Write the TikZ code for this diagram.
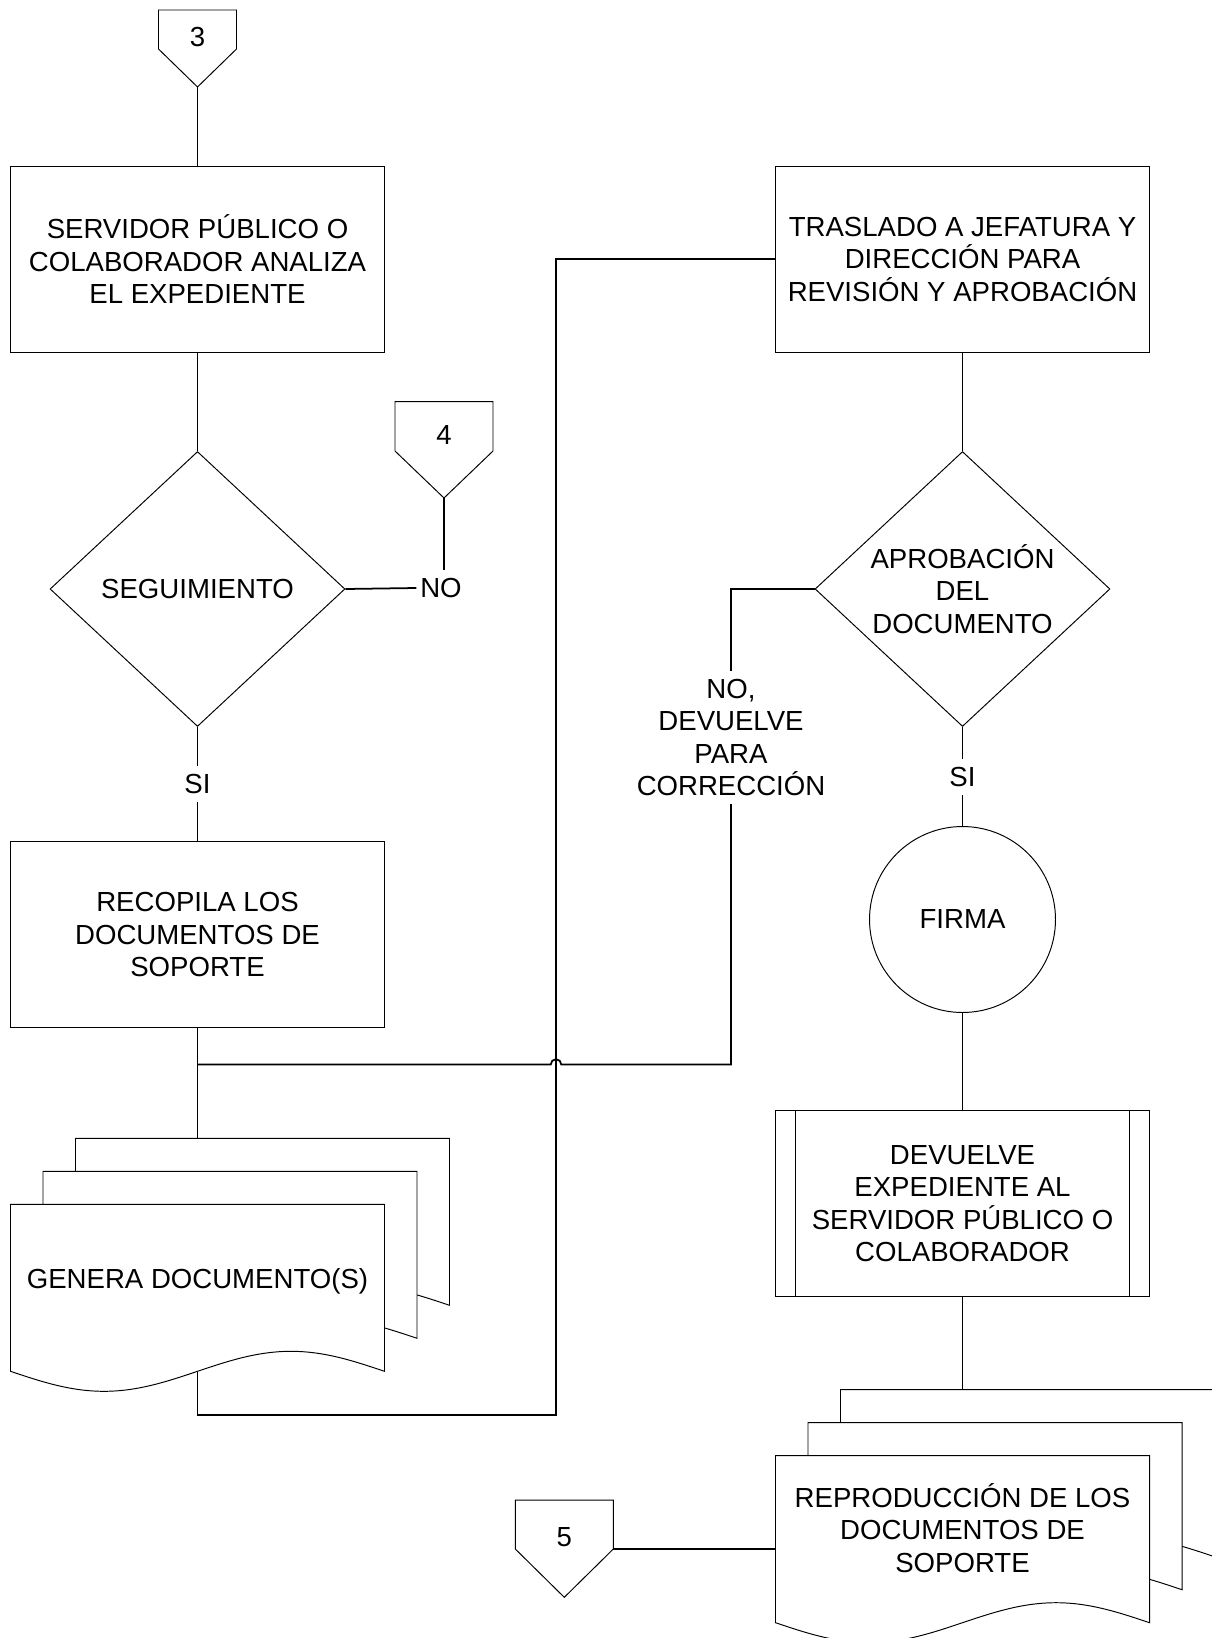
\documentclass[tikz,border=0pt]{standalone}
\usepackage{fontspec}
\setmainfont{Liberation Sans}
\usetikzlibrary{shapes.geometric}

\tikzset{
  outline/.style={draw, line width=0.55pt},
  flow/.style={line width=1pt},
  proc/.style={outline, rectangle, minimum width=7.48cm, minimum height=3.72cm, inner sep=0pt, align=center},
  decision/.style={outline, diamond, minimum width=5.9cm, minimum height=5.5cm, inner sep=0pt, align=center},
  firma/.style={outline, circle, minimum size=3.72cm, inner sep=0pt},
  lbl/.style={inner xsep=2pt, inner ysep=4.5pt, align=center},
  pics/sheet/.style={code={
    \filldraw[fill=white, line width=0.55pt] (0,167) -- (0,0) -- (374,0) -- (374,167)
      sin (280.5,147) cos (187,167) sin (93.5,187) cos (0,167) -- cycle;
  }}
}

\begin{document}
\begin{tikzpicture}[x=0.02cm, y=-0.02cm, font=\fontsize{15.7}{18.4}\selectfont]
\useasboundingbox (0,0) rectangle (1212,1638);

\draw[outline] (158.5,10) -- (236.5,10) -- (236.5,49) -- (197.5,87) -- (158.5,49) -- cycle;
\node (n3) at (197.5,37.5) {3};
\coordinate (c3) at (197.5,87);
\node[proc] (b1) at (197.5,259.2) {SERVIDOR PÚBLICO O\\COLABORADOR ANALIZA\\EL EXPEDIENTE};
\node[decision] (d1) at (197.5,589) {SEGUIMIENTO};
\draw[outline] (395,401.7) -- (493,401.7) -- (493,451) -- (444,498) -- (395,451) -- cycle;
\node (n4) at (444,435) {4};
\coordinate (c4) at (444,498);
\node[lbl] (no1) at (441,588) {NO};
\node[lbl] (si1) at (197.5,784) {SI};
\node[proc] (b2) at (197.5,934.5) {RECOPILA LOS\\DOCUMENTOS DE\\SOPORTE};
\foreach \k in {2,1,0}
  \pic at ({10.5+32.5*\k},{1204.3-33*\k}) {sheet};
\node (gen) at (197.5,1281) {GENERA DOCUMENTO(S)};
\coordinate (gentop) at (197.5,1138.3);
\coordinate (genbot) at (197.5,1371);
\coordinate (j1) at (197.5,1064.5);
\coordinate (jmp) at (556,1064.5);
\coordinate (loopc) at (556,1415);

\node[proc] (b3) at (962.5,259.2) {TRASLADO A JEFATURA Y\\DIRECCIÓN PARA\\REVISIÓN Y APROBACIÓN};
\node[decision] (d2) at (962.5,589) {APROBACIÓN\\DEL\\DOCUMENTO};
\node[lbl] (no2) at (731,737.5) {NO,\\DEVUELVE\\PARA\\CORRECCIÓN};
\node[lbl] (si2) at (962.5,777) {SI};
\node[firma] (fir) at (962.5,919.5) {FIRMA};
\node[proc] (b4) at (962.5,1203.7) {DEVUELVE\\EXPEDIENTE AL\\SERVIDOR PÚBLICO O\\COLABORADOR};
\draw[outline] ([xshift=0.4cm]b4.north west) -- ([xshift=0.4cm]b4.south west)
  ([xshift=-0.4cm]b4.north east) -- ([xshift=-0.4cm]b4.south east);
\foreach \k in {2,1,0}
  \pic at ({775.5+32.5*\k},{1455.7-33*\k}) {sheet};
\node[align=center] (rep) at (962.5,1528) {REPRODUCCIÓN DE LOS\\DOCUMENTOS DE\\SOPORTE};
\coordinate (reptop) at (962.5,1389.7);
\coordinate (repl) at (775.5,1549);
\draw[outline] (515.3,1500) -- (613.3,1500) -- (613.3,1549) -- (564.3,1597.3) -- (515.3,1549) -- cycle;
\node (n5) at (564.3,1537) {5};
\coordinate (c5) at (613.3,1549);

\draw[flow] (c3) -- (b1.north);
\draw[flow] (b1.south) -- (d1.north);
\draw[flow] (d1.east) -- (no1.west);
\draw[flow] (c4) -- (c4 |- no1.north);
\draw[flow] (d1.south) -- (si1.north);
\draw[flow] (si1.south) -- (b2.north);
\draw[flow] (b2.south) -- (gentop);
\draw[flow] (d2.west) -| (no2.north);
\draw[flow] (no2.south) |- ([xshift=0.106cm]jmp) arc (0:-180:5.3) -- (j1);
\draw[flow] (genbot) |- (loopc) |- (b3.west);
\draw[flow] (b3.south) -- (d2.north);
\draw[flow] (d2.south) -- (si2.north);
\draw[flow] (si2.south) -- (fir.north);
\draw[flow] (fir.south) -- (b4.north);
\draw[flow] (b4.south) -- (reptop);
\draw[flow] (c5) -- (repl);
\end{tikzpicture}
\end{document}
